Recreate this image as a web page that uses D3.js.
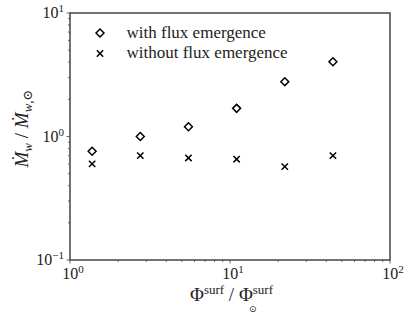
<!DOCTYPE html>
<html>
<head>
<meta charset="utf-8">
<script src="https://cdn.jsdelivr.net/npm/d3@7"></script>
<style>
  body { margin: 0; background: #fff; }
</style>
</head>
<body>
<div id="chart"></div>
<script>
var svgWidth = 409;
var svgHeight = 315;

var margin = { top: 13, right: 19, bottom: 55, left: 70 };
var width = svgWidth - margin.left - margin.right;
var height = svgHeight - margin.top - margin.bottom;

// data
var fluxRatio = [1.375, 2.75, 5.5, 11, 22, 44];
var withEmergence = [0.76, 1.0, 1.2, 1.69, 2.78, 4.03];
var withoutEmergence = [0.60, 0.70, 0.67, 0.655, 0.57, 0.70];
var seriesNames = ["with flux emergence", "without flux emergence"];
var xTickExps = [0, 1, 2];
var yTickExps = [-1, 0, 1];

var serif = "'Liberation Serif', 'DejaVu Serif', serif";

var svg = d3.select("#chart")
  .append("svg")
  .attr("width", svgWidth)
  .attr("height", svgHeight)
  .attr("font-family", serif);

var chartGroup = svg.append("g")
  .attr("transform", `translate(${margin.left}, ${margin.top})`);

var x = d3.scaleLog().domain([1, 100]).range([0, width]);
var y = d3.scaleLog().domain([0.1, 10]).range([height, 0]);

// minor ticks
function minorTicks(lo, hi) {
  var out = [];
  for (var e = lo; e < hi; e++) {
    for (var k = 2; k <= 9; k++) out.push(k * Math.pow(10, e));
  }
  return out;
}

var axisColor = "#444";
var textColor = "#222";

// bottom axis ticks
var xg = chartGroup.append("g").attr("transform", `translate(0,${height})`);
xg.selectAll("line.minor").data(minorTicks(0, 2)).enter().append("line")
  .attr("x1", d => x(d)).attr("x2", d => x(d))
  .attr("y1", 0).attr("y2", 2)
  .attr("stroke", axisColor).attr("stroke-width", 0.8);
xg.selectAll("line.major").data(xTickExps).enter().append("line")
  .attr("x1", d => x(Math.pow(10, d))).attr("x2", d => x(Math.pow(10, d)))
  .attr("y1", 0).attr("y2", 3.5)
  .attr("stroke", axisColor).attr("stroke-width", 0.8);
var xl = xg.selectAll("text").data(xTickExps).enter().append("text")
  .attr("x", d => x(Math.pow(10, d)) + 3)
  .attr("y", 19)
  .attr("text-anchor", "middle")
  .attr("fill", textColor)
  .attr("font-size", 16);
xl.append("tspan").text("10");
xl.append("tspan").attr("dy", -6).attr("font-size", 11).text(d => d);

// left axis ticks
var yg = chartGroup.append("g");
yg.selectAll("line.minor").data(minorTicks(-1, 1)).enter().append("line")
  .attr("y1", d => y(d)).attr("y2", d => y(d))
  .attr("x1", 0).attr("x2", -2)
  .attr("stroke", axisColor).attr("stroke-width", 0.8);
yg.selectAll("line.major").data(yTickExps).enter().append("line")
  .attr("y1", d => y(Math.pow(10, d))).attr("y2", d => y(Math.pow(10, d)))
  .attr("x1", 0).attr("x2", -3.5)
  .attr("stroke", axisColor).attr("stroke-width", 0.8);
var yl = yg.selectAll("text").data(yTickExps).enter().append("text")
  .attr("x", -6)
  .attr("y", d => y(Math.pow(10, d)) + 5)
  .attr("text-anchor", "end")
  .attr("fill", textColor)
  .attr("font-size", 16);
yl.append("tspan").text("10");
yl.append("tspan").attr("dy", -6).attr("font-size", 11).text(d => d === -1 ? "\u22121" : d);

// frame
chartGroup.append("rect")
  .attr("width", width).attr("height", height)
  .attr("fill", "none")
  .attr("stroke", axisColor)
  .attr("stroke-width", 1.5);

// markers
var diamond = d3.symbol().type(d3.symbolDiamond2).size(40);
var cross = d3.symbol().type(d3.symbolTimes).size(28);

chartGroup.selectAll("path.with").data(fluxRatio).enter().append("path")
  .attr("class", "with")
  .attr("d", diamond)
  .attr("transform", (d, i) => `translate(${x(d)},${y(withEmergence[i])})`)
  .attr("fill", "white").attr("stroke", "black").attr("stroke-width", 1.5);

chartGroup.selectAll("path.without").data(fluxRatio).enter().append("path")
  .attr("class", "without")
  .attr("d", cross)
  .attr("transform", (d, i) => `translate(${x(d)},${y(withoutEmergence[i])})`)
  .attr("fill", "none").attr("stroke", "black").attr("stroke-width", 1.5);

// legend
var legend = chartGroup.append("g").attr("transform", "translate(30, 20)");
legend.append("path").attr("d", diamond)
  .attr("fill", "white").attr("stroke", "black").attr("stroke-width", 1.5);
legend.append("path").attr("d", cross).attr("transform", "translate(0,20.5)")
  .attr("fill", "none").attr("stroke", "black").attr("stroke-width", 1.5);
legend.selectAll("text").data(seriesNames).enter().append("text")
  .attr("x", 26.5)
  .attr("y", (d, i) => 4.5 + i * 20.5)
  .attr("fill", textColor)
  .attr("font-size", 17)
  .text(d => d);

// axes labels
var xlab = svg.append("text")
  .attr("x", 190)
  .attr("y", 301)
  .attr("fill", textColor)
  .attr("font-size", 19);
xlab.append("tspan").text("\u03A6");
xlab.append("tspan").attr("dy", -7).attr("font-size", 13).text("surf");
xlab.append("tspan").attr("dy", 7).text(" / \u03A6");
xlab.append("tspan").attr("dy", -7).attr("font-size", 13).text("surf");
svg.append("text")
  .attr("x", 249)
  .attr("y", 312)
  .attr("fill", textColor)
  .attr("font-family", "'DejaVu Sans', sans-serif")
  .attr("font-size", 9)
  .text("\u2299");

var ylab = svg.append("text")
  .attr("transform", `translate(28, ${margin.top + height / 2 - 8}) rotate(-90)`)
  .attr("text-anchor", "middle")
  .attr("fill", textColor)
  .attr("font-size", 19);
ylab.append("tspan").attr("font-style", "italic").text("\u1E40");
ylab.append("tspan").attr("dy", 4).attr("font-size", 13).attr("font-style", "italic").text("w");
ylab.append("tspan").attr("dy", -4).text(" / ");
ylab.append("tspan").attr("font-style", "italic").text("\u1E40");
ylab.append("tspan").attr("dy", 4).attr("font-size", 13).attr("font-style", "italic").text("w");
ylab.append("tspan").attr("font-size", 13).text(",\u2299");
</script>
</body>
</html>
